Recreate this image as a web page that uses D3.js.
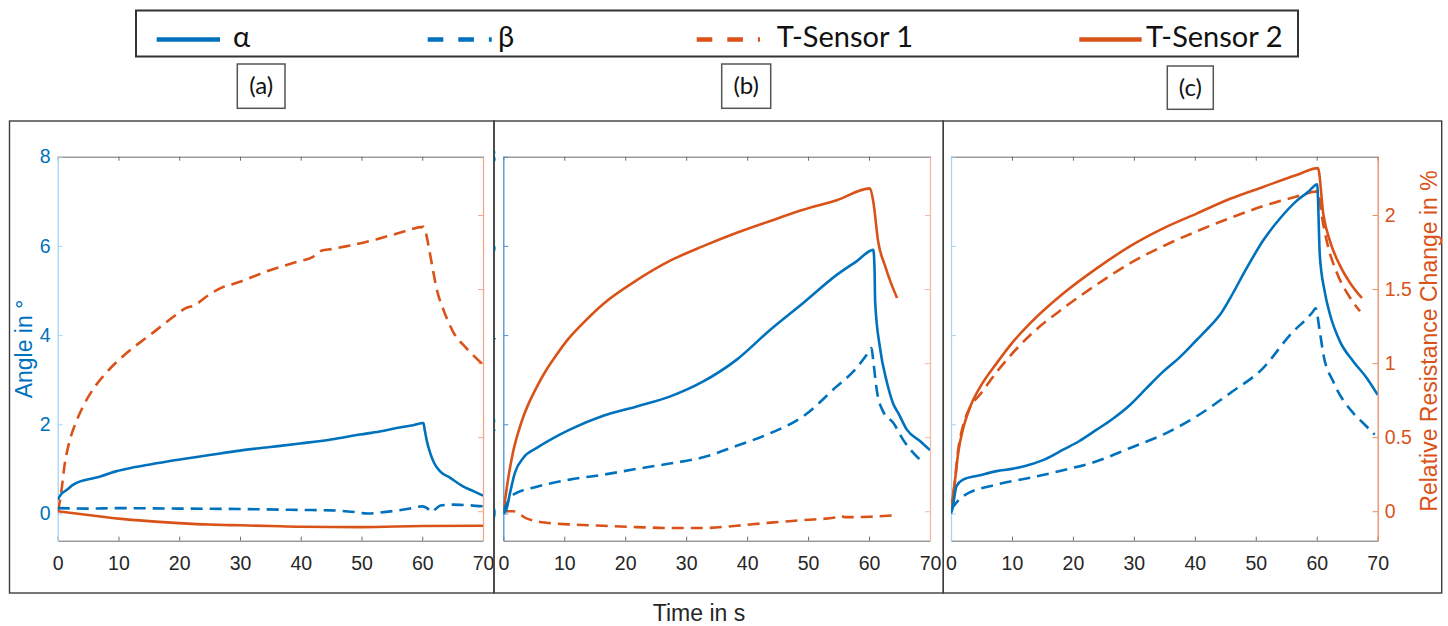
<!DOCTYPE html>
<html>
<head>
<meta charset="utf-8">
<script src="https://cdn.jsdelivr.net/npm/d3@7"></script>
<style>
  body { margin: 0; background: #fff; }
  svg { display: block; font-family: "Liberation Sans", Arial, sans-serif; }
</style>
</head>
<body>
<svg id="chart" width="1448" height="626"></svg>
<script>
// ---- data (time in s, value) ----
var timeTicks = [0, 10, 20, 30, 40, 50, 60, 70];
var angleTicks = [0, 2, 4, 6, 8];
var resTicks = [0, 0.5, 1, 1.5, 2];
var panelLabels = ['(a)', '(b)', '(c)'];
var seriesNames = ['α', 'β', 'T-Sensor 1', 'T-Sensor 2'];

// panel (a)
var alphaA = [[0,0.31],[0.5,0.42],[1.5,0.53],[2.5,0.64],[3.7,0.72],[5.5,0.78],[7,0.83],[9.7,0.95],
  [12,1.02],[15.2,1.10],[20.1,1.21],[25,1.31],[30,1.41],[35,1.49],[39.9,1.57],[45,1.66],[49.8,1.77],
  [53,1.84],[56.3,1.93],[58.5,1.98],[60.2,2.03],[60.4,1.88],[60.8,1.6],[61.3,1.36],[62,1.12],
  [62.9,0.95],[64.6,0.80],[66.7,0.61],[68.4,0.50],[70,0.40]];
var betaA = [[0,0.12],[5,0.11],[10,0.12],[20,0.11],[30,0.10],[40,0.08],[45,0.07],[49,0.03],[51,0.0],
  [53,0.02],[56,0.07],[58,0.11],[60,0.16],[60.8,0.12],[61.5,0.03],[62.2,0.1],[63,0.18],[65,0.2],
  [67,0.19],[70,0.16]];
var sensor1A = [[0,0],[0.4,0.075],[1.2,0.33],[2,0.48],[3,0.6],[4.2,0.71],[6.1,0.84],[8.1,0.94],
  [11.4,1.07],[15.2,1.19],[19.6,1.33],[21,1.37],[22.5,1.39],[24.5,1.45],[27,1.51],[28.5,1.53],
  [30,1.55],[34.4,1.62],[39,1.68],[42.1,1.72],[43.5,1.76],[45,1.77],[47.6,1.79],[51.9,1.83],
  [56.3,1.88],[60.2,1.92],[60.6,1.88],[61,1.80],[61.8,1.62],[62.5,1.48],[63.4,1.37],[65.1,1.21],
  [67.3,1.10],[70,0.99]];
var sensor2A = [[0,0],[5,-0.025],[10,-0.05],[15,-0.067],[20,-0.08],[25,-0.09],[30,-0.095],[35,-0.1],
  [40,-0.105],[50,-0.107],[60,-0.10],[70,-0.098]];

// panel (b)
var alphaB = [[0,0],[0.5,0.09],[1.1,0.46],[1.9,0.91],[3.3,1.25],[5.5,1.47],[8.2,1.69],[10.9,1.88],
  [16.4,2.19],[21.9,2.40],[27.3,2.62],[32.8,2.96],[38.3,3.45],[43.8,4.12],[49.2,4.72],[54.7,5.35],
  [58,5.66],[60.7,5.91],[60.9,5.5],[61,4.75],[61.8,3.71],[62.9,2.96],[64,2.45],[64.8,2.25],
  [66.2,1.88],[68.4,1.62],[70,1.42]];
var betaB = [[0,0.05],[1.6,0.42],[5.5,0.6],[10.9,0.76],[16.4,0.87],[21.9,1.0],[27.3,1.12],[32.8,1.26],
  [38.3,1.52],[43.8,1.80],[49.2,2.18],[54.7,2.85],[57.4,3.18],[60.2,3.67],[60.4,3.71],[60.7,3.41],
  [61.3,2.74],[62.3,2.29],[64,2.03],[65.6,1.65],[68.6,1.17]];
var sensor1B = [[0,0],[1.6,0],[3.8,-0.048],[7.1,-0.078],[10.9,-0.089],[16.4,-0.098],[21.9,-0.107],
  [27.3,-0.113],[32.8,-0.113],[38.3,-0.098],[43.8,-0.077],[49.2,-0.06],[54.7,-0.041],[55.3,-0.03],
  [56,-0.04],[60.2,-0.037],[64.5,-0.026]];
var sensor2B = [[0,0],[0.3,0.08],[0.8,0.22],[1.6,0.40],[2.5,0.54],[3.3,0.64],[4.3,0.74],[5.5,0.84],
  [7,0.95],[8.8,1.06],[10.6,1.16],[12.6,1.25],[16.4,1.40],[21.9,1.56],[27.3,1.69],[32.8,1.79],
  [38.3,1.88],[43.8,1.96],[49.2,2.035],[54.7,2.10],[60.15,2.18],[60.7,2.09],[61.5,1.82],[62.6,1.66],
  [63.7,1.53],[64.6,1.44]];

// panel (c)
var alphaC = [[0,0],[0.2,0.09],[0.9,0.61],[2,0.76],[4.5,0.85],[7.5,0.95],[10,1.0],[13,1.10],
  [15.5,1.22],[18.4,1.43],[21,1.62],[23.9,1.88],[26.5,2.12],[29.4,2.44],[32,2.80],[34.8,3.18],
  [37.5,3.50],[40.3,3.89],[42.5,4.2],[44.1,4.45],[45.8,4.83],[48.5,5.50],[51.2,6.12],[54,6.62],
  [56.7,7.01],[58.5,7.2],[60.1,7.38],[60.2,7.07],[60.5,5.8],[61.3,4.98],[62.2,4.45],[63.8,3.86],
  [66,3.41],[68.2,3.04],[70,2.66]];
var betaC = [[0,0.09],[2,0.39],[7.5,0.65],[13,0.80],[18.4,0.97],[23.9,1.17],[29.4,1.47],[34.8,1.77],
  [40.3,2.18],[45.8,2.70],[51.2,3.26],[55.6,4.0],[59.4,4.53],[59.8,4.6],[60.5,4.08],[61.1,3.56],
  [62.7,2.96],[66,2.25],[67.6,2.03],[69.5,1.77]];
var sensor1C = [[0,0],[0.5,0.15],[1.2,0.42],[2,0.58],[3.1,0.70],[4.8,0.79],[7.5,0.94],[13,1.19],
  [18.4,1.37],[23.9,1.53],[29.4,1.675],[34.8,1.79],[40.3,1.89],[45.8,1.98],[51.2,2.06],[56.7,2.125],
  [60.2,2.16],[60.8,2.0],[61.9,1.78],[63.2,1.62],[65.5,1.44],[67.1,1.35]];
var sensor2C = [[0,0],[0.66,0.21],[1.2,0.40],[2,0.56],[3.1,0.70],[4.8,0.84],[7.5,1.00],[10.2,1.145],
  [13,1.27],[18.4,1.47],[23.9,1.64],[29.4,1.79],[34.8,1.91],[40.3,2.01],[45.8,2.11],[51.2,2.19],
  [56.7,2.27],[60.2,2.317],[61.1,2.0],[62.2,1.82],[63.8,1.66],[65.5,1.54],[67.4,1.44]];

// ---- styling / layout ----
var BLUE = '#0072BD', ORANGE = '#D95319';
var legendFont = 'Lato, "Open Sans", sans-serif';
var plotTop = 156.7, plotBottom = 540.7;

var panels = [
  {frame: [9.5, 494], plot: [57.7, 483], alpha: alphaA, beta: betaA, s1: sensor1A, s2: sensor2A,
   leftColor: '#a9d3f0', rightColor: '#f2a88c', leftLabels: true, rightLabels: false,
   box: [237.3, 64, 47.7, 44.3]},
  {frame: [494, 943.3], plot: [503.3, 930], alpha: alphaB, beta: betaB, s1: sensor1B, s2: sensor2B,
   leftColor: '#4a90d0', rightColor: '#f5b8a4', leftLabels: true, rightLabels: false,
   box: [721.7, 64, 49, 44.3]},
  {frame: [943.3, 1441.7], plot: [951, 1377.7], alpha: alphaC, beta: betaC, s1: sensor1C, s2: sensor2C,
   leftColor: '#a9d3f0', rightColor: '#e4895f', leftLabels: false, rightLabels: true,
   box: [1167.3, 66, 46, 43.3]}
];

var svg = d3.select('#chart');
var yAngle = d3.scaleLinear().domain([-0.61, 8]).range([plotBottom, plotTop]);
var yRes = d3.scaleLinear().domain([-0.199, 2.394]).range([plotBottom, plotTop]);

function drawPanel(p, i) {
  var x = d3.scaleLinear().domain([0, 70]).range(p.plot);
  var clipId = 'clip-frame-' + i, plotClip = 'clip-plot-' + i;
  var defs = svg.append('defs');
  defs.append('clipPath').attr('id', clipId).append('rect')
      .attr('x', p.frame[0]).attr('y', 121).attr('width', p.frame[1] - p.frame[0]).attr('height', 472);
  defs.append('clipPath').attr('id', plotClip).append('rect')
      .attr('x', p.plot[0]).attr('y', plotTop).attr('width', p.plot[1] - p.plot[0])
      .attr('height', plotBottom - plotTop);

  var g = svg.append('g').attr('clip-path', 'url(#' + clipId + ')');

  // top and bottom axes
  g.append('g').attr('transform', 'translate(0,' + plotTop + ')')
      .call(d3.axisTop(x).tickValues(timeTicks).tickSizeInner(-4).tickSizeOuter(0).tickFormat(''))
      .call(function(a) { a.selectAll('path,line').attr('stroke', '#6b6b6b'); });
  var bottom = g.append('g').attr('transform', 'translate(0,' + plotBottom + ')')
      .call(d3.axisBottom(x).tickValues(timeTicks).tickSizeInner(-4).tickSizeOuter(0).tickPadding(15));
  bottom.selectAll('path,line').attr('stroke', '#6b6b6b');
  bottom.selectAll('text').attr('font-size', 19.5).attr('fill', '#262626')
      .attr('font-family', '"Liberation Sans", Arial, sans-serif');

  // left (angle) axis
  var left = g.append('g').attr('transform', 'translate(' + p.plot[0] + ',0)')
      .call(d3.axisLeft(yAngle).tickValues(angleTicks).tickSizeInner(-5).tickSizeOuter(0).tickPadding(7)
        .tickFormat(p.leftLabels ? d3.format('d') : ''));
  left.select('path').attr('stroke', p.leftColor).attr('stroke-width', 1.3);
  left.selectAll('line').attr('stroke', p.leftColor);
  left.selectAll('text').attr('font-size', 19.5).attr('fill', BLUE)
      .attr('font-family', '"Liberation Sans", Arial, sans-serif');

  // right (resistance) axis
  var right = g.append('g').attr('transform', 'translate(' + p.plot[1] + ',0)')
      .call(d3.axisRight(yRes).tickValues(resTicks).tickSizeInner(-5).tickSizeOuter(0).tickPadding(7)
        .tickFormat(p.rightLabels ? d3.format('') : ''));
  right.select('path').attr('stroke', p.rightColor).attr('stroke-width', 1.3);
  right.selectAll('line').attr('stroke', p.rightColor);
  right.selectAll('text').attr('font-size', 19.5).attr('fill', ORANGE)
      .attr('font-family', '"Liberation Sans", Arial, sans-serif');

  // curves
  var lines = g.append('g').attr('clip-path', 'url(#' + plotClip + ')');
  var lineAngle = d3.line().x(function(d) { return x(d[0]); }).y(function(d) { return yAngle(d[1]); })
      .curve(d3.curveMonotoneX);
  var lineRes = d3.line().x(function(d) { return x(d[0]); }).y(function(d) { return yRes(d[1]); })
      .curve(d3.curveMonotoneX);
  var series = [
    {data: p.s1, gen: lineRes, color: ORANGE, dash: '12,7'},
    {data: p.s2, gen: lineRes, color: ORANGE, dash: null},
    {data: p.beta, gen: lineAngle, color: BLUE, dash: '12,7'},
    {data: p.alpha, gen: lineAngle, color: BLUE, dash: null}
  ];
  series.forEach(function(s) {
    lines.append('path').attr('d', s.gen(s.data)).attr('fill', 'none')
        .attr('stroke', s.color).attr('stroke-width', 2.6)
        .attr('stroke-linejoin', 'round')
        .attr('stroke-dasharray', s.dash);
  });

  // panel frame
  svg.append('rect').attr('x', p.frame[0]).attr('y', 121)
      .attr('width', p.frame[1] - p.frame[0]).attr('height', 472)
      .attr('fill', 'none').attr('stroke', '#3c3c3c').attr('stroke-width', 1.4);

  // label box (a)/(b)/(c)
  svg.append('rect').attr('x', p.box[0]).attr('y', p.box[1]).attr('width', p.box[2]).attr('height', p.box[3])
      .attr('fill', '#fff').attr('stroke', '#555').attr('stroke-width', 1.5);
  svg.append('text').attr('x', p.box[0] + p.box[2] / 2).attr('y', p.box[1] + p.box[3] / 2 + 8)
      .attr('text-anchor', 'middle').attr('font-size', 24).attr('font-family', legendFont)
      .attr('fill', '#111').text(panelLabels[i]);
}

panels.forEach(drawPanel);

// axis titles
svg.append('text').attr('transform', 'translate(31.5,349) rotate(-90)')
    .attr('text-anchor', 'middle').attr('font-size', 23).attr('fill', BLUE).text('Angle in °');
svg.append('text').attr('transform', 'translate(1437,341) rotate(-90)')
    .attr('text-anchor', 'middle').attr('font-size', 23).attr('fill', ORANGE)
    .text('Relative Resistance Change in %');
svg.append('text').attr('x', 699).attr('y', 620.5).attr('text-anchor', 'middle')
    .attr('font-size', 23).attr('fill', '#262626').text('Time in s');

// legend
var legendItems = [
  {x0: 156.7, x1: 220, tx: 233, color: BLUE, dash: null},
  {x0: 427.7, x1: 491.7, tx: 498, color: BLUE, dash: '15.6,15'},
  {x0: 696.7, x1: 760, tx: 776.7, color: ORANGE, dash: '15.6,15'},
  {x0: 1079.3, x1: 1141.7, tx: 1146, color: ORANGE, dash: null}
];
svg.append('rect').attr('x', 136).attr('y', 10.5).attr('width', 1162).attr('height', 46)
    .attr('fill', '#fff').attr('stroke', '#333').attr('stroke-width', 2);
legendItems.forEach(function(it, i) {
  svg.append('line').attr('x1', it.x0).attr('x2', it.x1).attr('y1', 39.5).attr('y2', 39.5)
      .attr('stroke', it.color).attr('stroke-width', 4.5).attr('stroke-dasharray', it.dash);
  svg.append('text').attr('x', it.tx).attr('y', 46.5).attr('font-size', 29)
      .attr('font-family', legendFont).attr('fill', '#111').text(seriesNames[i]);
});
</script>
</body>
</html>
